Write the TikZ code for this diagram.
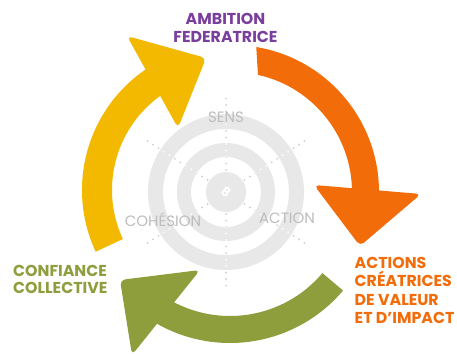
\documentclass[tikz,border=0pt]{standalone}
\usepackage{fontspec}
\setmainfont{Poppins}
\usetikzlibrary{calc}
\definecolor{cpurple}{HTML}{7A3E9D}
\definecolor{corange}{HTML}{F36C0A}
\definecolor{cyellow}{HTML}{F3B800}
\definecolor{cgreen}{HTML}{8E9E3D}
\definecolor{cring}{HTML}{E8E8E8}
\definecolor{cgraytxt}{HTML}{BDBDBD}
\definecolor{cdot}{HTML}{CFCFCF}
\begin{document}
\begin{tikzpicture}[x=1pt,y=1pt,
  lbl/.style={font=\fontsize{15.8}{18.6}\selectfont\bfseries, inner sep=0pt, align=left},
  ringtxt/.style={font=\fontsize{15}{15}\selectfont, text=cgraytxt, inner sep=0pt},
  dotline/.style={line width=2pt, line cap=round, dash pattern=on 0pt off 6.5pt}]
\useasboundingbox (0,0) rectangle (457,-353);
\fill[white] (0,0) rectangle (457,-353);
\coordinate (rc) at (226,-192);
% dotted spokes
\foreach \a in {90,33,-33,-90,147,213}
  \draw[dotline, cdot] ($(rc)+(\a:22)$) -- ($(rc)+(\a:95)$);
% target rings
\fill[cring, even odd rule] (rc) circle (78) (rc) circle (63) (rc) circle (49) (rc) circle (35) (rc) circle (20);
\begin{scope}[even odd rule]
  \clip (rc) circle (78) (rc) circle (63) (rc) circle (49) (rc) circle (35) (rc) circle (20);
  \foreach \a in {90,33,-33,-90,147,213}
    \draw[dotline, white] ($(rc)+(\a:22)$) -- ($(rc)+(\a:95)$);
\end{scope}
\node[white, font=\fontsize{13}{13}\selectfont\bfseries, rotate=-35, inner sep=0pt] (logo) at (rc) {8};
% ring labels
\node[ringtxt, anchor=base] (sens) at (226,-122) {SENS};
\node[ringtxt, anchor=base] (coh) at (163,-226) {COHÉSION};
\node[ringtxt, anchor=base] (act) at (287,-223.5) {ACTION};
% orange arrow
\coordinate (oc) at (232,-192);
\fill[corange] ($(oc)+(80.5:147)$) arc[start angle=80.5, end angle=-3, radius=147]
  -- ($(oc)+(-3:120)$) arc[start angle=-3, end angle=77.5, radius=120] -- cycle;
\fill[corange, rounded corners=5pt] (314,-185) -- (360,-246) -- (421,-194) -- cycle;
% yellow arrow
\coordinate (yc) at (228,-190);
\fill[cyellow] ($(yc)+(205:146)$) arc[start angle=205, end angle=122, radius=146]
  -- ($(yc)+(122:116)$) arc[start angle=122, end angle=205, radius=116] -- cycle;
\fill[cyellow, rounded corners=5pt] (127,-36) -- (206,-58) -- (178,-128) -- cycle;
% green arrow
\coordinate (gc) at (230,-195);
\fill[cgreen] ($(gc)+(-40.2:148)$) arc[start angle=-40.2, end angle=-123, radius=148]
  -- ($(gc)+(-123:121)$) arc[start angle=-123, end angle=-40.2, radius=121] -- cycle;
\fill[cgreen, rounded corners=5pt] (120,-280) -- (200,-270) -- (132,-355) -- cycle;
% labels
\node[lbl, text=cpurple, align=center, anchor=north] (amb) at (225.5,-12.9) {AMBITION\\FEDERATRICE};
\node[lbl, text=cgreen, anchor=north west, font=\fontsize{15.8}{17.5}\selectfont\bfseries] (conf) at (13,-264.9) {CONFIANCE\\COLLECTIVE};
\node[lbl, text=corange, anchor=north west] (actions) at (354.5,-256.6) {ACTIONS\\CRÉATRICES\\DE VALEUR\\ET D’IMPACT};
\end{tikzpicture}
\end{document}
